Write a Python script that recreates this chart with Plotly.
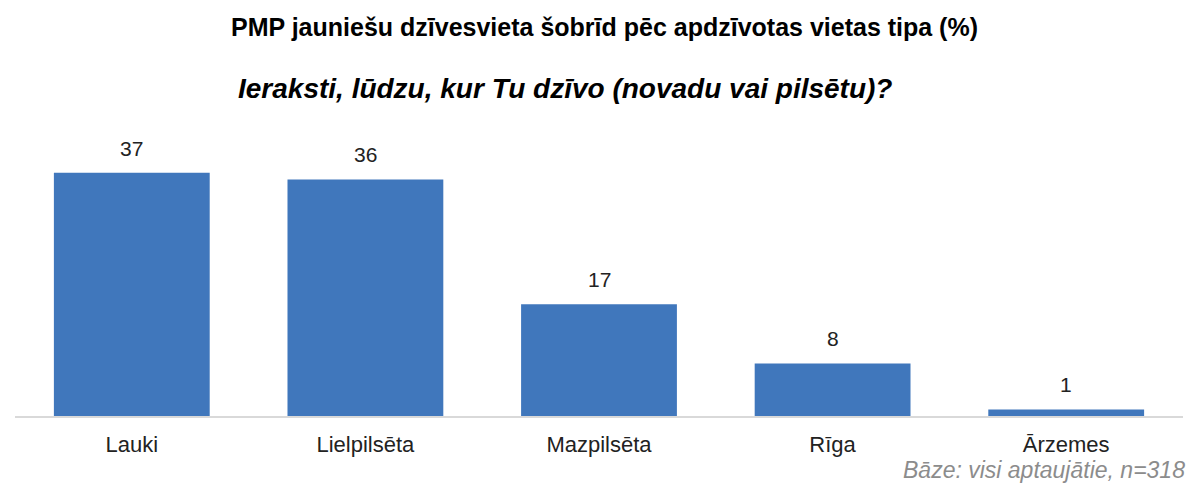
import plotly.graph_objects as go

CATEGORIES = ["Lauki", "Lielpilsēta", "Mazpilsēta", "Rīga", "Ārzemes"]
VALUES = [37, 36, 17, 8, 1]

BLUE = "#4077BC"
INK = "#222222"
SANS = "Liberation Sans, Arial, sans-serif"

fig = go.Figure(
    go.Bar(
        x=CATEGORIES,
        y=VALUES,
        marker=dict(color=BLUE, line=dict(width=0)),
        hoverinfo="x+y",
    )
)

for cat, val in zip(CATEGORIES, VALUES):
    fig.add_annotation(
        x=cat, y=val, text=str(val), showarrow=False,
        yanchor="bottom", yshift=11,
        font=dict(family=SANS, size=21, color=INK),
    )

fig.add_annotation(
    xref="paper", yref="paper", x=0.5, xshift=5, y=1, yshift=113,
    text="<b>PMP jauniešu dzīvesvieta šobrīd pēc apdzīvotas vietas tipa (%)</b>",
    showarrow=False, xanchor="center", yanchor="middle",
    font=dict(family=SANS, size=25, color="#000000"),
)
fig.add_annotation(
    xref="paper", yref="paper", x=0.5, xshift=-34, y=1, yshift=52,
    text="<b><i>Ieraksti, lūdzu, kur Tu dzīvo (novadu vai pilsētu)?</i></b>",
    showarrow=False, xanchor="center", yanchor="middle",
    font=dict(family=SANS, size=28, color="#000000"),
)
fig.add_annotation(
    xref="paper", yref="paper", x=1, xshift=4, y=0, yshift=-54,
    text="<i>Bāze: visi aptaujātie, n=318</i>",
    showarrow=False, xanchor="right", yanchor="middle",
    font=dict(family=SANS, size=23, color="#8C8C8C"),
)

fig.update_layout(
    width=1191,
    height=484,
    template="plotly_white",
    paper_bgcolor="white",
    plot_bgcolor="white",
    bargap=0.333,
    showlegend=False,
    margin=dict(l=15, r=8, t=140, b=68),
    font=dict(family=SANS, color=INK),
)
fig.update_xaxes(
    showgrid=False, showline=True, linecolor="#D9D9D9", linewidth=2,
    ticks="", ticklabelstandoff=8,
    tickfont=dict(family=SANS, size=22, color=INK),
)
fig.update_yaxes(range=[0, 42], visible=False, showgrid=False, zeroline=False)

fig.write_html(
    "out.html",
    config={"displayModeBar": False},
    post_script="document.body.style.margin='0';",
)
